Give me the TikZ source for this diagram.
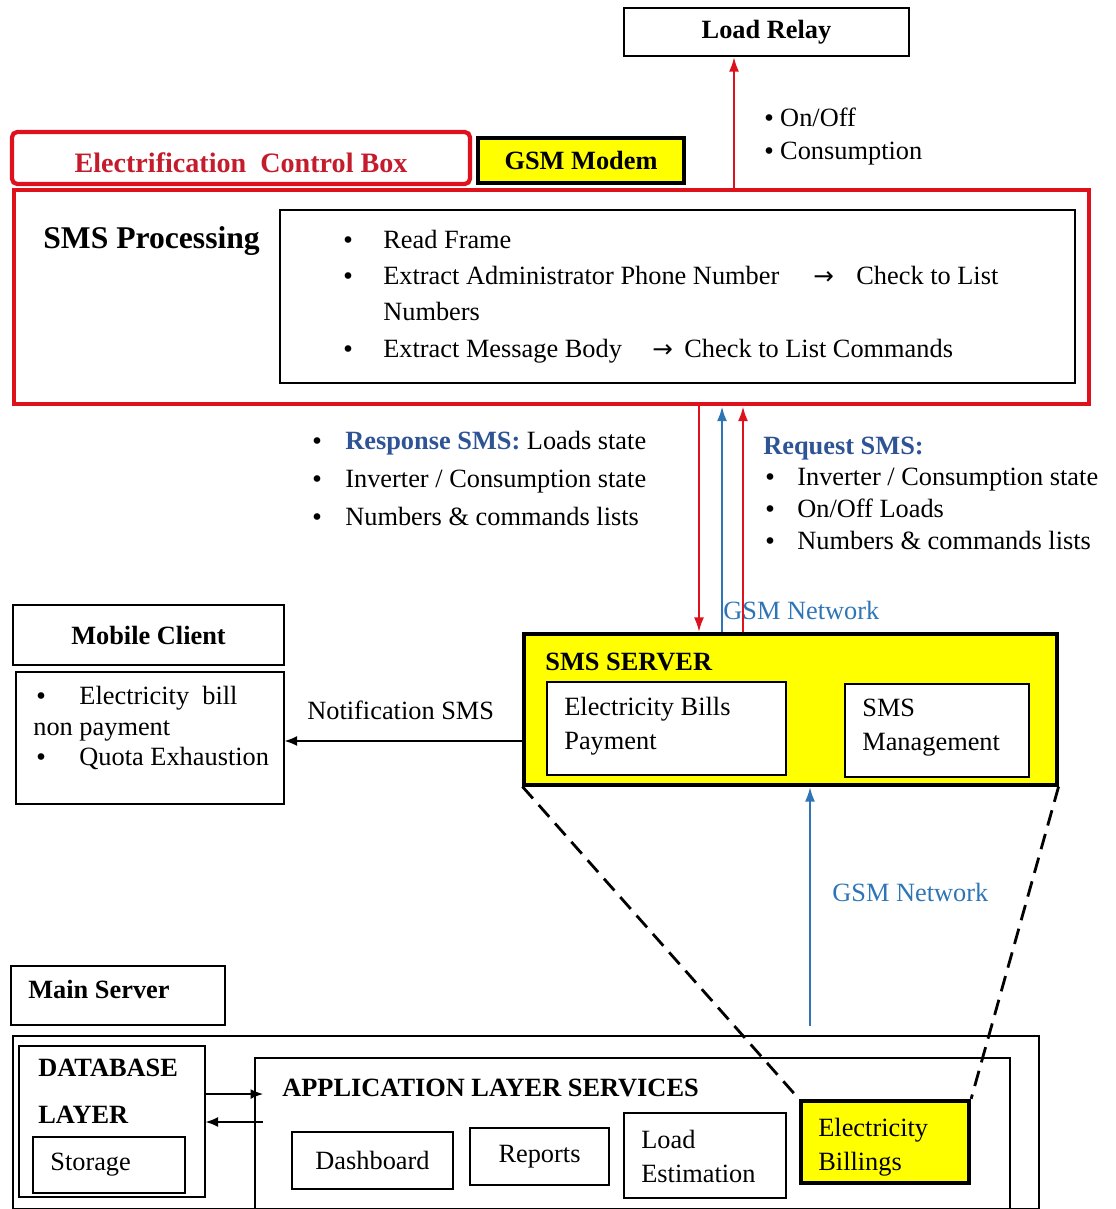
\documentclass[tikz,border=0pt]{standalone}
\usepackage{fontspec}
\setmainfont{Liberation Serif}
\newfontfamily\arrowfont{DejaVu Sans}
\usetikzlibrary{arrows.meta}

\definecolor{ecred}{RGB}{222,18,28}
\definecolor{ectext}{RGB}{196,28,44}
\definecolor{netblue}{RGB}{46,117,182}
\definecolor{smsblue}{RGB}{47,84,150}
\definecolor{boxyellow}{RGB}{255,255,0}

\newcommand{\bul}{{\arrowfont\fontsize{13}{16}\selectfont •}}

\tikzset{
box/.style n args = {2}{
	draw, rectangle, inner sep=0pt, line width=0.7pt,
	minimum width=#1*0.02cm, minimum height=#2*0.02cm,
	font=\fontsize{15}{18}\selectfont\bfseries
	},
txt/.style = {anchor=west, inner sep=0pt, text height=12pt, text depth=2pt,
	font=\fontsize{15}{18}\selectfont},
head/.style = {txt, font=\fontsize{15}{18}\selectfont\bfseries},
redbox/.style = {draw=ecred, line width=2.4pt},
yelbox/.style = {fill=boxyellow, line width=1.8pt},
redarrow/.style = {draw=ecred, line width=1.5pt, -{Latex[length=3mm,width=2mm]}},
bluearrow/.style = {draw=netblue, line width=1.5pt, -{Latex[length=3mm,width=2mm]}},
thinarrow/.style = {line width=0.8pt, -{Latex[length=2.5mm,width=2mm]}},
zoomline/.style = {line width=1.6pt, dash pattern=on 9pt off 5pt}
}

\begin{document}
\begin{tikzpicture}[x=0.02cm,y=-0.02cm]
\useasboundingbox (0,0) rectangle (1115,1209);

% load relay
\node[box={285}{48}] (relay) at (766.5,32) {Load Relay};
\coordinate (relayx) at (734,0);

% control box
\node[box={458}{52}, redbox, rounded corners=3pt, text=ectext, text height=16pt, text depth=0pt,
	font=\fontsize{16}{18}\selectfont\bfseries] (ecb) at (241,158) {Electrification\ \ Control Box};
\node[box={206}{45}, yelbox] (modem) at (581,160.5) {GSM Modem};

% sms processing
\node[box={1075}{214}, redbox] (smsproc) at (551.5,297) {};
\node[head, font=\fontsize{18}{20}\selectfont\bfseries] (proctitle) at (43,240) {SMS Processing};
\node[box={795}{173}] (steps) at (677.5,296.5) {};
\foreach \y/\n in {240/b1,276/b2,349/b3}
	\node[txt] (\n) at (341,\y) {\bul};
\node[txt] (s1) at (383,240) {Read Frame};
\node[txt] (s2) at (383,276) {Extract Administrator Phone Number};
\node[txt] (s2a) at (813,276) {\arrowfont\fontsize{14}{16}\selectfont →};
\node[txt] (s2b) at (856,276) {Check to List};
\node[txt] (s3) at (383,312) {Numbers};
\node[txt] (s4) at (383,349) {Extract Message Body};
\node[txt] (s4a) at (652,349) {\arrowfont\fontsize{14}{16}\selectfont →};
\node[txt] (s4b) at (684,349) {Check to List Commands};

\draw[redarrow] (smsproc.north -| relayx) -- (relay.south -| relayx);
\node[txt] (onoff) at (762,118) {\bul\,On/Off};
\node[txt] (cons) at (762,151) {\bul\,Consumption};

% sms server
\node[box={533}{151}, yelbox] (smsserver) at (790.5,709.5) {};
\node[head] (servertitle) at (545,662) {SMS SERVER};
\node[box={239}{93}, fill=white] (bills) at (666.5,728.5) {};
\node[txt] (bills1) at (564,707) {Electricity Bills};
\node[txt] (bills2) at (564,741) {Payment};
\node[box={184}{93}, fill=white] (smsman) at (937,730.5) {};
\node[txt] (smsman1) at (862,708) {SMS};
\node[txt] (smsman2) at (862,742) {Management};

% gsm links
\coordinate (down) at (699,0);
\coordinate (upblue) at (722,0);
\coordinate (upred) at (743,0);
\draw[redarrow] (smsproc.south -| down) -- (smsserver.north -| down);
\draw[bluearrow] (smsserver.north -| upblue) -- (smsproc.south -| upblue);
\draw[redarrow] (smsserver.north -| upred) -- (smsproc.south -| upred);

\foreach \y/\n in {441/r1,479/r2,517/r3}
	\node[txt] (\n) at (310,\y) {\bul};
\node[txt] (resp1) at (345,441) {\textcolor{smsblue}{\bfseries Response SMS:} Loads state};
\node[txt] (resp2) at (345,479) {Inverter / Consumption state};
\node[txt] (resp3) at (345,517) {Numbers \& commands lists};

\node[txt, text=smsblue, font=\fontsize{15}{18}\selectfont\bfseries] (req) at (763,446) {Request SMS:};
\foreach \y/\n in {477/q1,509/q2,541/q3}
	\node[txt] (\n) at (763,\y) {\bul};
\node[txt] (req1) at (797,477) {Inverter / Consumption state};
\node[txt] (req2) at (797,509) {On/Off Loads};
\node[txt] (req3) at (797,541) {Numbers \& commands lists};
\node[txt, text=netblue] (net1) at (723,611) {GSM Network};

% mobile client
\node[box={271}{60}] (mobile) at (148.5,635) {Mobile Client};
\node[box={268}{132}] (moblist) at (150,738) {};
\node[txt] (m1) at (34,696) {\bul\hspace{1.2em}Electricity\ \ bill};
\node[txt] (m2) at (33,727) {non payment};
\node[txt] (m3) at (34,757) {\bul\hspace{1.2em}Quota Exhaustion};
\coordinate (noty) at (0,741);
\draw[thinarrow] (smsserver.west |- noty) -- (moblist.east |- noty);
\node[txt] (notif) at (307,711) {Notification SMS};

% main server
\node[box={214}{59}] (mainserver) at (118,995.5) {};
\node[head] (maintitle) at (28,990) {Main Server};
\node[box={1026}{173}] (mainbox) at (526,1122.5) {};
\node[box={186}{151}] (dblayer) at (112,1121.5) {};
\node[head] (db1) at (38,1068) {DATABASE};
\node[head] (db2) at (38,1115) {LAYER};
\node[box={152}{56}] (storage) at (109,1165) {};
\node[txt] (stor) at (50,1162) {Storage};
\node[box={755}{154}] (applayer) at (632.5,1135) {};
\node[head] (apptitle) at (282,1088) {APPLICATION LAYER SERVICES};
\coordinate (appin) at (263,1094);
\coordinate (appout) at (263,1122);
\draw[thinarrow] (dblayer.east |- appin) -- (appin);
\draw[thinarrow] (appout) -- (dblayer.east |- appout);

\node[box={161}{57}, font=\fontsize{15}{18}\selectfont] (dash) at (372.5,1160.5) {Dashboard};
\node[box={139}{57}, font=\fontsize{15}{18}\selectfont] (reports) at (539.5,1156.5) {Reports};
\node[box={162}{85}] (loadest) at (705,1155.5) {};
\node[txt] (le1) at (641,1140) {Load};
\node[txt] (le2) at (641,1174) {Estimation};
\node[box={168}{82}, yelbox, line width=2.4pt] (billing) at (885,1142) {};
\node[txt] (bl1) at (818,1128) {Electricity};
\node[txt] (bl2) at (818,1162) {Billings};

% zoom of the billing service
\draw[zoomline] (smsserver.south west) -- (billing.north west);
\draw[zoomline] (smsserver.south east) -- (billing.north east);

\coordinate (netstart) at (810,1026);
\draw[bluearrow] (netstart) -- (smsserver.south -| netstart);
\node[txt, text=netblue] (net2) at (832,893) {GSM Network};
\end{tikzpicture}
\end{document}
